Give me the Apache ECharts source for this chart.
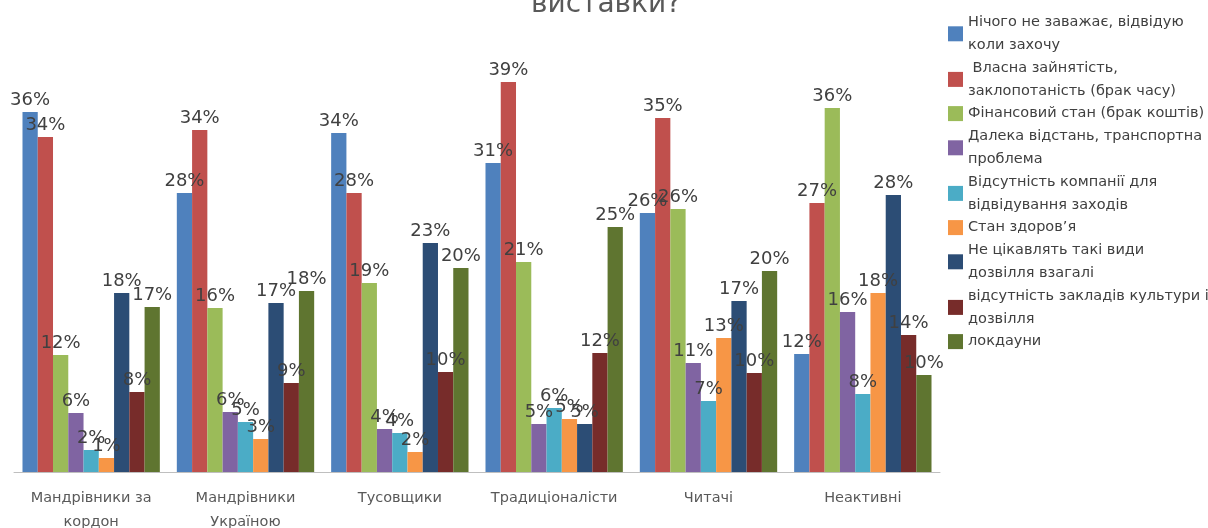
<!DOCTYPE html>
<html>
<head>
<meta charset="utf-8">
<script src="https://cdn.jsdelivr.net/npm/echarts@6/dist/echarts.min.js"></script>
<style>html,body{margin:0;padding:0;background:#fff;}#c{width:1208px;height:528px;}</style>
</head>
<body>
<div id="c"></div>
<script>
const titleText = "виставки?";
const categories = ["Мандрівники за\nкордон", "Мандрівники\nУкраїною", "Тусовщики", "Традиціоналісти", "Читачі", "Неактивні"];
const seriesNames = [
  "Нічого не заважає, відвідую коли захочу",
  " Власна зайнятість, заклопотаність (брак часу)",
  "Фінансовий стан (брак коштів)",
  "Далека відстань, транспортна проблема",
  "Відсутність компанії для відвідування заходів",
  "Стан здоров’я",
  "Не цікавлять такі види дозвілля взагалі",
  "відсутність закладів культури і дозвілля",
  "локдауни"
];
const legendLabels = [
  "Нічого не заважає, відвідую\nколи захочу",
  " Власна зайнятість,\nзаклопотаність (брак часу)",
  "Фінансовий стан (брак коштів)",
  "Далека відстань, транспортна\nпроблема",
  "Відсутність компанії для\nвідвідування заходів",
  "Стан здоров’я",
  "Не цікавлять такі види\nдозвілля взагалі",
  "відсутність закладів культури і\nдозвілля",
  "локдауни"
];
const nothingStops   = [36, 27.9, 33.9, 30.9, 25.9, 11.8];
const busy           = [33.5, 34.2, 27.9, 39, 35.4, 26.9];
const finance        = [11.7, 16.4, 18.9, 21, 26.3, 36.4];
const distance       = [5.9, 6, 4.3, 4.8, 10.9, 16];
const noCompany      = [2.2, 5, 3.9, 6.4, 7.1, 7.8];
const health         = [1.4, 3.3, 2, 5.3, 13.4, 17.9];
const notInterested  = [17.9, 16.9, 22.9, 4.8, 17.1, 27.7];
const noVenues       = [8, 8.9, 10, 11.9, 9.9, 13.7];
const lockdowns      = [16.5, 18.1, 20.4, 24.5, 20.1, 9.7];
const values = [nothingStops, busy, finance, distance, noCompany, health, notInterested, noVenues, lockdowns];
const colors = ["#4F81BD", "#C0504D", "#9BBB59", "#8064A2", "#4BACC6", "#F79646", "#2C4D75", "#772C2A", "#5F7530"];

const chart = echarts.init(document.getElementById('c'), null, {renderer: 'canvas'});
const series = values.map((v, i) => ({
  name: seriesNames[i],
  type: 'bar',
  data: v,
  barGap: '0%',
  barCategoryGap: '11%',
  itemStyle: {color: colors[i]},
  label: {
    show: true,
    position: 'top',
    distance: 3,
    formatter: p => Math.round(p.value) + '%',
    fontFamily: 'DejaVu Sans',
    fontSize: 18,
    color: '#404040'
  }
}));
chart.setOption({
  animation: false,
  color: colors,
  title: {
    text: titleText,
    left: 601, top: -14,
    textAlign: 'center',
    textStyle: {fontFamily: 'DejaVu Sans', fontSize: 28, fontWeight: 'normal', color: '#595959'}
  },
  grid: {left: 14, right: 268, top: 72, bottom: 56, outerBoundsMode: 'none', containLabel: false},
  legend: {
    orient: 'vertical',
    left: 943, top: 6,
    itemWidth: 15, itemHeight: 15,
    itemGap: 0,
    icon: 'rect',
    formatter: name => legendLabels[seriesNames.indexOf(name)],
    textStyle: {fontFamily: 'DejaVu Sans', fontSize: 14.5, color: '#404040', lineHeight: 22.8},
    data: seriesNames
  },
  xAxis: {
    type: 'category',
    data: categories,
    axisLine: {lineStyle: {color: '#BFBFBF', width: 1}},
    axisTick: {show: false},
    axisLabel: {fontFamily: 'DejaVu Sans', fontSize: 14.5, color: '#595959', lineHeight: 24, margin: 14, interval: 0}
  },
  yAxis: {
    type: 'value', min: 0, max: 40, interval: 10,
    show: false,
    splitLine: {show: false}
  },
  series: series
});
</script>
</body>
</html>
